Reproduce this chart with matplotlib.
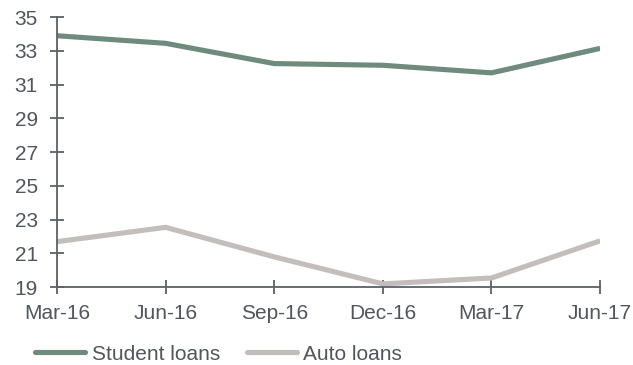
import matplotlib.pyplot as plt
from matplotlib.lines import Line2D

# data
quarters = ['Mar-16', 'Jun-16', 'Sep-16', 'Dec-16', 'Mar-17', 'Jun-17']
student_loans = [33.9, 33.45, 32.25, 32.15, 31.7, 33.15]
auto_loans = [21.7, 22.55, 20.8, 19.2, 19.55, 21.75]

green = '#6e8b7e'
grey = '#c3bebb'
axis_col = '#5b6168'
text_col = '#50565c'

plt.rcParams['font.family'] = ['Liberation Sans', 'DejaVu Sans']

fig = plt.figure(figsize=(6.33, 3.65), dpi=100)
ax = fig.add_axes([0.090, 0.213, 0.858, 0.740])

x = range(len(quarters))
ax.plot(x, student_loans, color=green, lw=3.7, solid_capstyle='butt', label='Student loans')
ax.plot(x, auto_loans, color=grey, lw=3.7, solid_capstyle='butt', label='Auto loans')

ax.set_xlim(0, len(quarters) - 1)
ax.set_ylim(19, 35)
ax.set_yticks(range(19, 36, 2))
ax.set_xticks(list(x))
ax.set_xticklabels(quarters)

for s in ['top', 'right']:
    ax.spines[s].set_visible(False)
for s in ['left', 'bottom']:
    ax.spines[s].set_color(axis_col)
    ax.spines[s].set_linewidth(1.3)

ax.tick_params(axis='both', direction='inout', length=9.4, width=1.3, color=axis_col,
               labelsize=15, labelcolor=text_col)
ax.tick_params(axis='y', pad=9)
ax.tick_params(axis='x', pad=7.5)

handles = [Line2D([0], [0], color=green, lw=3.7, solid_capstyle='round'),
           Line2D([0], [0], color=grey, lw=3.7, solid_capstyle='round')]
fig.legend(handles, ['Student loans', 'Auto loans'], loc='center left',
           bbox_to_anchor=(0.056, 0.030), ncol=2, frameon=False, fontsize=15,
           labelcolor=text_col, handlelength=2.4, handletextpad=0.3, columnspacing=1.3,
           borderaxespad=0, borderpad=0)

plt.savefig('out.png', dpi=100)
